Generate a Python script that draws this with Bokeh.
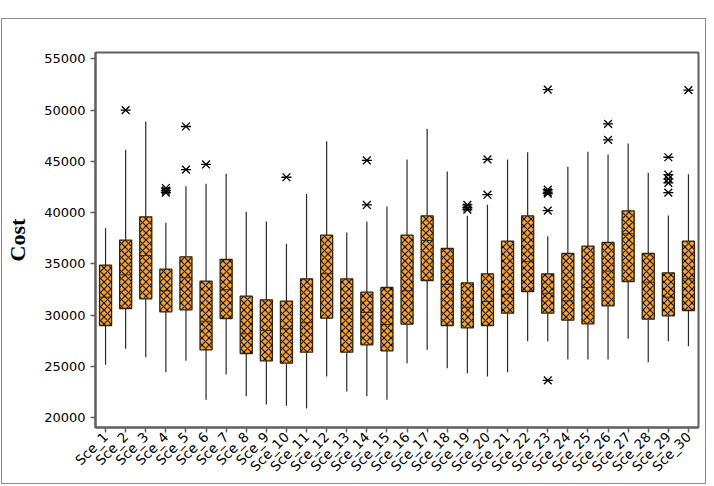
import math
from bokeh.plotting import figure
from bokeh.models import ColumnDataSource, FixedTicker, Range1d
from bokeh.transform import dodge
from bokeh.layouts import column
from bokeh.embed import file_html
from bokeh.resources import INLINE

cats = ["Sce_%d" % i for i in range(1, 31)]
whisk_low = [25168, 26728, 25909, 24446, 25558, 21755, 24222, 22106, 21297, 21170,
             20907, 24027, 22564, 22106, 21755, 25324, 26630, 24836, 24349, 24027,
             24446, 27469, 27469, 25684, 25684, 25684, 27703, 25421, 27469, 26981]
q1 = [29000, 30657, 31603, 30335, 30530, 26630, 29682, 26269, 25558, 25324,
      26396, 29711, 26396, 27118, 26532, 29126, 33387, 28999, 28775, 28999,
      30199, 32314, 30199, 29517, 29165, 30920, 33290, 29614, 29945, 30462]
median = [31759, 33943, 35824, 32383, 33650, 29419, 32480, 28190, 28512, 28678,
          29262, 34040, 30686, 30267, 29097, 32383, 37287, 32997, 30784, 31339,
          32051, 35239, 32149, 31408, 32705, 34294, 37940, 33222, 31759, 33553]
q3 = [34879, 37316, 39598, 34489, 35698, 33319, 35434, 31856, 31505, 31369,
      33553, 37804, 33553, 32246, 32705, 37804, 39695, 36507, 33163, 34040,
      37219, 39695, 34040, 36019, 36731, 37092, 40182, 36019, 34138, 37219]
whisk_high = [38486, 46130, 48889, 39013, 42581, 42815, 43790, 40085, 39139, 36965,
              41840, 46969, 38067, 39139, 40602, 45185, 48178, 44014, 39695, 40768,
              45185, 45896, 37706, 44472, 45935, 45672, 46744, 43888, 39724, 43751]

out_cat = ["Sce_2", "Sce_4", "Sce_4", "Sce_4", "Sce_5", "Sce_5", "Sce_6", "Sce_10",
           "Sce_14", "Sce_14", "Sce_19", "Sce_19", "Sce_19", "Sce_20", "Sce_20",
           "Sce_23", "Sce_23", "Sce_23", "Sce_23", "Sce_23", "Sce_23",
           "Sce_26", "Sce_26", "Sce_29", "Sce_29", "Sce_29", "Sce_29", "Sce_29", "Sce_30"]
out_val = [50000, 42400, 42150, 41950, 48400, 44200, 44700, 43450,
           45100, 40750, 40750, 40500, 40300, 45200, 41750,
           52000, 42250, 42000, 41850, 40200, 23650,
           48650, 47100, 45400, 43700, 43300, 42900, 41950, 51950]

y_ticks = [20000, 25000, 30000, 35000, 40000, 45000, 50000, 55000]

src = ColumnDataSource(dict(cat=cats, lo=whisk_low, q1=q1, med=median, q3=q3, hi=whisk_high))
osrc = ColumnDataSource(dict(cat=out_cat, val=out_val))

p = figure(x_range=cats, y_range=Range1d(19054, 55614), width=703, height=464,
           output_backend="svg", toolbar_location=None,
           min_border_left=89, min_border_right=7, min_border_top=33, min_border_bottom=56)
p.xgrid.visible = False
p.ygrid.visible = False
p.outline_line_color = "#5e5e5e"
p.outline_line_width = 2
p.x_range.range_padding = 0

wc = "#2a2a2a"
p.segment(x0="cat", x1="cat", y0="lo", y1="q1", source=src, line_color=wc, line_width=1.2)
p.segment(x0="cat", x1="cat", y0="q3", y1="hi", source=src, line_color=wc, line_width=1.2)
p.vbar(x="cat", width=0.6, top="q3", bottom="q1", source=src,
       fill_color="#F6A52A", line_color="#2e2210", line_width=1.3,
       hatch_pattern="diagonal_cross", hatch_color="#120c04", hatch_scale=7, hatch_weight=1.1)
p.segment(x0=dodge("cat", -0.3, range=p.x_range), x1=dodge("cat", 0.3, range=p.x_range),
          y0="med", y1="med", source=src, line_color="#3a2a12", line_width=1)
p.scatter(x="cat", y="val", source=osrc, marker="x", size=11,
          line_color="black", line_width=1.3)
p.scatter(x="cat", y="val", source=osrc, marker="dash", size=10,
          line_color="black", line_width=1.3)

p.yaxis.ticker = FixedTicker(ticks=y_ticks)
p.yaxis.minor_tick_line_color = None
p.yaxis.axis_label = "Cost"
p.yaxis.axis_label_text_font = "Liberation Serif"
p.yaxis.axis_label_text_font_style = "bold"
p.yaxis.axis_label_text_font_size = "22px"
p.yaxis.axis_label_text_color = "black"
p.yaxis.axis_label_standoff = 11
for ax in (p.xaxis, p.yaxis):
    ax.axis_line_color = "#5e5e5e"
    ax.axis_line_width = 2
    ax.major_tick_line_color = "#5e5e5e"
    ax.major_tick_line_width = 1.5
    ax.major_tick_out = 5
    ax.major_tick_in = 0
    ax.major_label_text_font = "DejaVu Sans"
    ax.major_label_text_color = "black"
p.yaxis.major_label_text_font_size = "13px"
p.yaxis.major_label_standoff = 5
p.xaxis.major_label_text_font_size = "13.5px"
p.xaxis.major_label_orientation = math.pi / 4
p.xaxis.major_label_standoff = 2

layout = column(p, margin=(18, 0, 0, 1), styles={"border": "1px solid #8c8c8c"})

open("out.html", "w").write(file_html(layout, INLINE))
